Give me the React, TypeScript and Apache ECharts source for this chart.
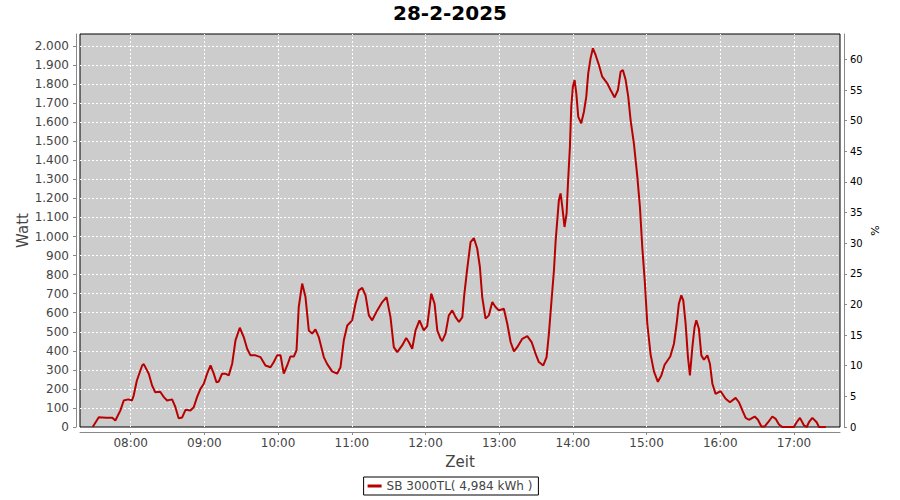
import React, { useEffect, useRef } from "react";
import * as echarts from "echarts";

const TITLE = "28-2-2025";
const SERIES_NAME = "SB 3000TL( 4,984 kWh )";
const hourTicks = [480, 540, 600, 660, 720, 780, 840, 900, 960, 1020];

// minutes since midnight
const timeMin = [
  449, 454, 460, 465, 467.5, 471.6, 474.3, 478, 481, 482.4, 485, 489.3, 490.6, 494.7, 497.4, 500, 504, 507, 509.6, 513.7,
  516.4, 519, 521.9, 524.6, 528.6, 531.3, 534, 536.8, 539.5, 542.2, 545, 547.6, 549.8, 551.7, 554.4, 557, 559.8, 562.6,
  565.3, 568.8, 572, 574.8, 577.5, 581.6, 585.6, 589.7, 593.8, 596.5, 599.2, 602, 604.6, 607.4, 610, 612.8, 615, 616.8,
  619.6, 622.3, 625, 627.7, 630.4, 633.1, 637.2, 640, 644, 648, 650.8, 653.5, 656.3, 660.3, 663, 665.7, 668.5, 671.2,
  673.9, 676.6, 680.7, 684.8, 688.3, 691.5, 694.2, 697, 701, 704.3, 706.4, 709.2, 711.9, 715.1, 718.6, 721.4, 724.7,
  727.4, 729.6, 732.3, 733.6, 736.3, 739, 741.8, 744.5, 747.3, 750, 751.5, 754, 756.7, 759.4, 762.1, 764.3, 766.2,
  768.9, 771.6, 774.4, 777, 779.7, 783.8, 786.6, 789.3, 792, 794.7, 798.8, 802.9, 806.4, 809.6, 812.3, 815.9, 818.6,
  820.5, 822.4, 824.6, 826, 827.3, 828.6, 830, 831.4, 833.2, 834.9, 836, 837.6, 838.7, 840, 841.4, 842.8, 844.4, 846.8,
  849, 850.9, 852.5, 854.4, 856.3, 858.5, 861.2, 863.9, 868, 870.7, 874, 876.7, 878.9, 880.7, 883, 885.1, 887, 889.7,
  892.5, 894.6, 896.5, 898.5, 900.6, 903.3, 906, 909.2, 912, 914.7, 919.3, 922.3, 924.5, 926.3, 928.3, 929.9, 931.8,
  933.7, 935.3, 937.3, 939.1, 940.5, 942.6, 944.6, 946.7, 949.5, 951.6, 953.6, 956.2, 960.3, 964.4, 967.9, 972.5,
  975.2, 978, 980.7, 983.3, 988, 990.7, 993.5, 996.2, 999, 1002.4, 1005.1, 1007.8, 1010.6, 1020, 1022.2, 1024.9,
  1028.2, 1030.4, 1032.2, 1035, 1038.5, 1040.4, 1046,
];

// Watt
const watt = [
  0, 51, 48, 48, 34, 87, 139, 145, 139, 165, 244, 323, 330, 280, 218, 182, 185, 157, 139, 145,
  104, 46, 50, 90, 87, 104, 157, 200, 227, 280, 323, 280, 235, 239, 280, 280, 271, 332,
  455, 521, 472, 411, 376, 376, 367, 323, 314, 341, 376, 376, 280, 323, 370, 370, 402, 630,
  753, 682, 507, 490, 512, 472, 367, 330, 292, 280, 314, 455, 533, 560, 647, 717, 730, 691,
  586, 560, 612, 656, 682, 577, 419, 393, 428, 467, 446, 411, 507, 560, 507, 530, 700,
  647, 507, 463, 451, 490, 586, 612, 577, 551, 577, 690, 831, 971, 992, 937, 840, 682,
  569, 586, 656, 630, 612, 621, 542, 446, 397, 419, 463, 477, 446, 385, 341, 323, 367,
  490, 647, 823, 980, 1085, 1190, 1226, 1155, 1050, 1121, 1278, 1471, 1681, 1786, 1821, 1751, 1628, 1594,
  1655, 1733, 1856, 1935, 1988, 1953, 1900, 1839, 1804, 1769, 1730, 1769, 1865, 1874, 1821, 1733, 1611, 1488,
  1313, 1155, 945, 770, 542, 380, 292, 237, 270, 327, 370, 437, 542, 647, 691, 665, 542,
  367, 271, 419, 525, 560, 516, 376, 353, 376, 332, 227, 174, 188, 148, 130, 153,
  130, 87, 48, 38, 55, 38, 3, 3, 25, 55, 43, 13, 0, 0, 25, 48,
  8, 0, 25, 48, 25, 0, 0,
];

const FONT = "DejaVu Sans";
const pad2 = (n: number) => (n < 10 ? "0" + n : "" + n);

export default function App() {
  const ref = useRef<HTMLDivElement>(null);
  useEffect(() => {
    if (!ref.current) return;
    const chart = echarts.init(ref.current, null, { renderer: "svg" });
    const data = timeMin.map((t, i) => [t, watt[i]]);
    chart.setOption({
      animation: false,
      backgroundColor: "#ffffff",
      textStyle: { fontFamily: FONT },
      title: {
        text: TITLE,
        left: "center",
        top: -2,
        textStyle: { fontFamily: FONT, fontSize: 20, fontWeight: "bold", color: "#000" },
      },
      legend: {
        data: [SERIES_NAME],
        left: "center",
        top: 477,
        padding: [3, 6, 3, 4],
        borderColor: "#000",
        borderWidth: 1,
        backgroundColor: "#fff",
        itemWidth: 14,
        itemHeight: 3,
        itemGap: 4,
        icon: "rect",
        textStyle: { fontFamily: FONT, fontSize: 12, color: "#444" },
      },
      grid: {
        left: 80,
        top: 34,
        width: 760,
        height: 393,
        show: true,
        backgroundColor: "#cccccc",
        borderColor: "#000",
        borderWidth: 1,
      },
      xAxis: {
        type: "value",
        min: 438.7,
        max: 1057.5,
        offset: 5,
        name: "Zeit",
        nameLocation: "middle",
        nameGap: 22,
        nameMoveOverlap: false,
        nameTextStyle: { fontFamily: FONT, fontSize: 15, color: "#444" },
        axisLine: { show: true, onZero: false, lineStyle: { color: "#888" } },
        axisTick: { show: true, length: 3, lineStyle: { color: "#888" }, customValues: hourTicks },
        axisLabel: {
          customValues: hourTicks,
          margin: 5,
          fontFamily: FONT,
          fontSize: 12,
          color: "#444",
          formatter: (v: number) => pad2(Math.floor(v / 60)) + ":" + pad2(Math.round(v % 60)),
        },
        splitLine: { show: false },
      },
      yAxis: [
        {
          type: "value",
          min: 0,
          max: 2063,
          interval: 100,
          offset: 4,
          name: "Watt",
          nameLocation: "middle",
          nameGap: 46,
          nameMoveOverlap: false,
          nameTextStyle: { fontFamily: FONT, fontSize: 15, color: "#444" },
          axisLine: { show: true, lineStyle: { color: "#888" } },
          axisTick: { show: true, length: 3, lineStyle: { color: "#888" } },
          axisLabel: {
            margin: 7,
            fontFamily: FONT,
            fontSize: 12,
            color: "#444",
            showMaxLabel: false,
            formatter: (v: number) =>
              v >= 1000 ? Math.floor(v / 1000) + "." + String(v % 1000).padStart(3, "0") : String(v),
          },
          splitLine: {
            show: true,
            showMinLine: false,
            showMaxLine: false,
            lineStyle: { color: "#ffffff", type: [2, 2], width: 1 },
          },
        },
        {
          type: "value",
          position: "right",
          min: 0,
          max: 64.15,
          interval: 5,
          offset: 4,
          name: "%",
          nameLocation: "middle",
          nameGap: 26,
          nameMoveOverlap: false,
          nameTextStyle: { fontFamily: FONT, fontSize: 11, color: "#000" },
          axisLine: { show: true, lineStyle: { color: "#888" } },
          axisTick: { show: true, length: 3, lineStyle: { color: "#888" } },
          axisLabel: { margin: 6, fontFamily: FONT, fontSize: 10, color: "#000", showMaxLabel: false },
          splitLine: { show: false },
        },
      ],
      series: [
        {
          name: SERIES_NAME,
          type: "line",
          data,
          yAxisIndex: 0,
          symbol: "none",
          smooth: false,
          z: 3,
          lineStyle: { color: "#b80000", width: 2 },
          itemStyle: { color: "#b80000" },
          markLine: {
            silent: true,
            symbol: "none",
            label: { show: false },
            z: 1,
            lineStyle: { color: "#ffffff", type: [2, 2], width: 1 },
            data: hourTicks.map((h) => ({ xAxis: h })),
          },
        },
      ],
    });
    return () => chart.dispose();
  }, []);
  return <div ref={ref} style={{ width: 900, height: 500, position: "absolute", left: 0, top: 0 }} />;
}
